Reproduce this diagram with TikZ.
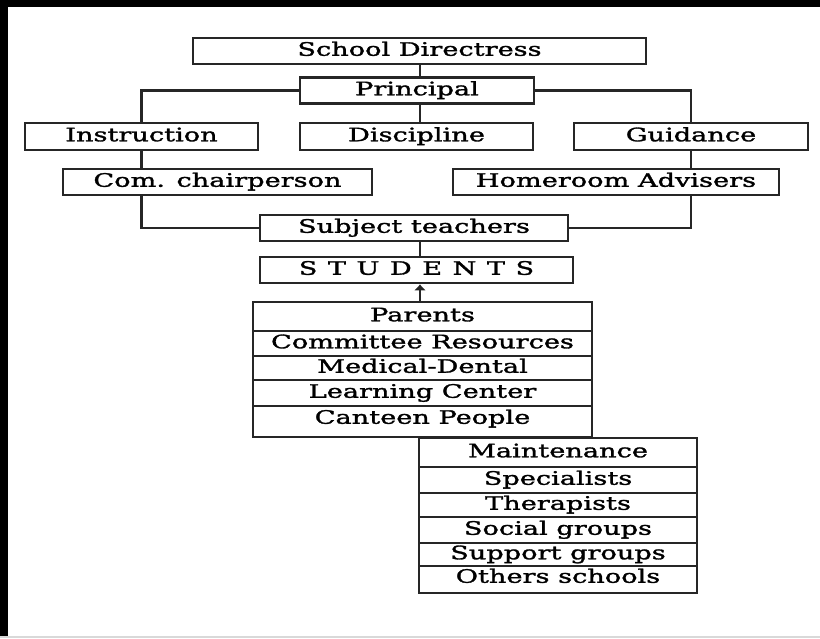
\documentclass[tikz,border=0pt]{standalone}
\usepackage{fontspec}
\setmainfont{DejaVu Serif}[FakeStretch=1.47, FakeBold=1.6]
\usetikzlibrary{arrows.meta}
\begin{document}
\begin{tikzpicture}[x=1pt,y=-1pt,
  box/.style={draw=black!85, line width=2.6pt, inner sep=0pt, align=center,
    font=\fontsize{18.5}{22}\selectfont, text height=13.5pt, text depth=4pt},
  row/.style={box, minimum height=#1},
  conn/.style={draw=black!85, line width=2.3pt}]
\useasboundingbox (0,0) rectangle (820,638);
\fill[white] (0,0) rectangle (820,638);
\fill[black] (0,0) rectangle (820,7);
\fill[black] (0,0) rectangle (8,638);
\fill[black!15] (0,636) rectangle (820,638);
% top hierarchy
\node[box, minimum width=453pt, minimum height=26pt] (sd) at (419.5,51) {School Directress};
\node[box, minimum width=234pt, minimum height=26pt] (pr) at (417,90.5) {Principal};
\node[box, minimum width=233pt, minimum height=27pt] (ins) at (141.5,136.5) {Instruction};
\node[box, minimum width=233pt, minimum height=27pt] (dis) at (416.5,136.5) {Discipline};
\node[box, minimum width=234pt, minimum height=27pt] (gui) at (691,136.5) {Guidance};
\node[box, minimum width=309pt, minimum height=26pt] (com) at (217.5,182) {Com. chairperson};
\node[box, minimum width=326pt, minimum height=26pt] (hom) at (616,182) {Homeroom Advisers};
\node[box, minimum width=308pt, minimum height=26pt] (sub) at (414,228) {Subject teachers};
\node[box, minimum width=313pt, minimum height=26pt] (stu) at (416.5,270)
  {S\hspace{10.5pt}T\hspace{10.5pt}U\hspace{10.5pt}D\hspace{10.5pt}E\hspace{10.5pt}N\hspace{10.5pt}T\hspace{10.5pt}S};
% resource block 1
\node[row=29pt, minimum width=339pt] (p1) at (422.5,316.5) {Parents};
\node[row=25pt, minimum width=339pt] (p2) at (422.5,343.5) {Committee Resources};
\node[row=24pt, minimum width=339pt] (p3) at (422.5,368) {Medical-Dental};
\node[row=26pt, minimum width=339pt] (p4) at (422.5,393) {Learning Center};
\node[row=31pt, minimum width=339pt, text depth=9pt] (p5) at (422.5,421.5) {Canteen People};
% resource block 2
\node[row=29pt, minimum width=278pt] (q1) at (558,452.5) {Maintenance};
\node[row=26pt, minimum width=278pt] (q2) at (558,480) {Specialists};
\node[row=24pt, minimum width=278pt] (q3) at (558,505) {Therapists};
\node[row=26pt, minimum width=278pt] (q4) at (558,530) {Social groups};
\node[row=23pt, minimum width=278pt] (q5) at (558,554.5) {Support groups};
\node[row=27pt, minimum width=278pt, text depth=7pt] (q6) at (558,579.5) {Others schools};
% connectors
\coordinate (mx) at (420,0);
\draw[conn] (mx |- sd.south) -- (mx |- pr.north);
\draw[conn] (pr.west) -| (ins.north);
\draw[conn] (pr.east) -| (gui.north);
\draw[conn] (mx |- pr.south) -- (mx |- dis.north);
\draw[conn] (ins.south) -- (ins.south |- com.north);
\draw[conn] (gui.south) -- (gui.south |- hom.north);
\draw[conn] (ins.south |- com.south) |- (sub.west);
\draw[conn] (gui.south |- hom.south) |- (sub.east);
\draw[conn] (mx |- sub.south) -- (mx |- stu.north);
\draw[conn, line width=1.8pt, -{Latex[length=6pt,width=12pt]}] (mx |- p1.north) -- (mx |- stu.south);
\end{tikzpicture}
\end{document}
